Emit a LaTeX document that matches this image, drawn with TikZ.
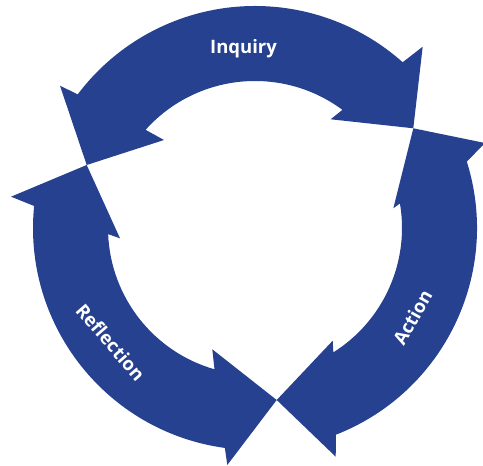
\documentclass[tikz,border=0pt]{standalone}
\usepackage{fontspec}
\setmainfont{Open Sans}
\usetikzlibrary{calc}
\definecolor{cycleblue}{RGB}{38,65,143}
\tikzset{
  band/.style={fill=cycleblue, draw=none},
  label/.style={text=white, font=\fontsize{18.5}{20}\selectfont\bfseries, inner sep=0pt}
}
\begin{document}
\begin{tikzpicture}[x=1pt,y=1pt]
\useasboundingbox (0,0) rectangle (483,466);
\coordinate (C) at (255,238);
% Inquiry (top)
\fill[band] ($(C)+(143:222pt)$) arc[start angle=143, end angle=48.3, radius=222pt]
  -- (422.7,419.3) -- (413.3,337.7) -- (330.7,346.7)
  -- ($(C)+(53.5:147pt)$) arc[start angle=53.5, end angle=138.1, radius=147pt]
  -- (164,326) -- (86.7,301) -- (60,380.3) -- cycle;
% Action (right)
\fill[band] ($(C)+(17.4:222pt)$) arc[start angle=17.4, end angle=-68.6, radius=222pt]
  -- (335.7,9.3) -- (276.7,66) -- (332.7,125.3)
  -- ($(C)+(-57.8:147pt)$) arc[start angle=-57.8, end angle=9.6, radius=147pt]
  -- (393.3,257.7) -- (413.3,337.7) -- (485,323) -- cycle;
% Reflection (left)
\fill[band] ($(C)+(174.3:222pt)$) arc[start angle=174.3, end angle=262.2, radius=222pt]
  -- (227.3,1) -- (276.7,66) -- (212.3,116.7)
  -- ($(C)+(254:147pt)$) arc[start angle=254, end angle=182.4, radius=147pt]
  -- (120,227.7) -- (86.7,301) -- (11,269.3) -- cycle;
\node[label, anchor=base] (inquiry) at (243.5,412.7) {Inquiry};
\node[label, rotate=-49] (reflection) at (110.7,123.7) {Reflection};
\node[label, rotate=60.5] (action) at (412.5,148.5) {Action};
\end{tikzpicture}
\end{document}
